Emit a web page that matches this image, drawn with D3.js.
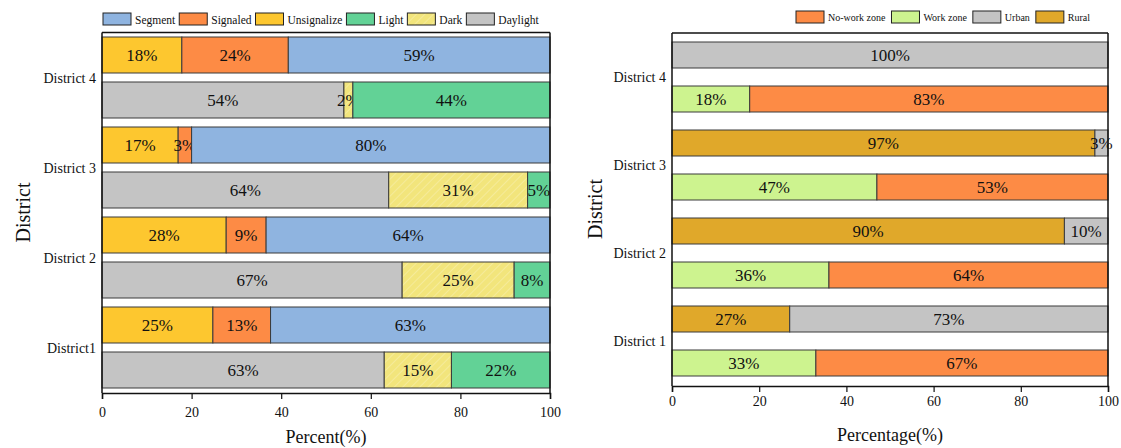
<!DOCTYPE html>
<html>
<head>
<meta charset="utf-8">
<script src="https://cdn.jsdelivr.net/npm/d3@7"></script>
<style>
  body { margin: 0; background: #fff; }
  svg { display: block; }
</style>
</head>
<body>
<script>
// district order bottom -> top
const leftDistricts = ['District1', 'District 2', 'District 3', 'District 4'];
const rightDistricts = ['District 1', 'District 2', 'District 3', 'District 4'];

// left panel, intersection type row
const unsignalize = [25, 28, 17, 18];
const signaled = [13, 9, 3, 24];
const segment = [63, 64, 80, 59];
// left panel, lighting row
const daylight = [63, 67, 64, 54];
const dark = [15, 25, 31, 2];
const light = [22, 8, 5, 44];

// right panel, area row
const rural = [27, 90, 97, 0];
const urban = [73, 10, 3, 100];
// right panel, work zone row
const workZone = [33, 36, 47, 18];
const noWorkZone = [67, 64, 53, 83];

const xTicks = [0, 20, 40, 60, 80, 100];

const colors = {
    Segment: '#8fb4e0',
    Signaled: '#fd8b45',
    Unsignalize: '#fdc72f',
    Light: '#62d296',
    Dark: 'url(#darkPat)',
    Daylight: '#c4c4c4',
    'No-work zone': '#fd8b45',
    'Work zone': '#cdf38f',
    Urban: '#c4c4c4',
    Rural: '#e0a82a'
};

const width = 1121;
const height = 448;
const font = '"Liberation Serif", "Times New Roman", serif';

const svg = d3.select('body').append('svg')
    .attr('width', width)
    .attr('height', height)
    .attr('font-family', font);

const defs = svg.append('defs');
const pat = defs.append('pattern')
    .attr('id', 'darkPat')
    .attr('patternUnits', 'userSpaceOnUse')
    .attr('width', 6)
    .attr('height', 6)
    .attr('patternTransform', 'rotate(45)');
pat.append('rect').attr('width', 6).attr('height', 6).attr('fill', '#f2e57c');
pat.append('line')
    .attr('x1', 0).attr('y1', 0).attr('x2', 0).attr('y2', 6)
    .attr('stroke', '#f6eea4').attr('stroke-width', 1.5);

function drawPanel(cfg) {
    const g = svg.append('g');

    const x = d3.scaleLinear()
        .domain([0, 100])
        .range([cfg.left, cfg.right]);

    const y = d3.scaleBand()
        .domain(cfg.districts.slice().reverse())
        .range([cfg.top, cfg.bottom]);

    const sub = d3.scaleBand()
        .domain(['top', 'bottom'])
        .range([0, y.bandwidth()])
        .paddingInner(cfg.padInner)
        .paddingOuter(cfg.padOuter);

    // build segments for each row
    const segs = [];
    cfg.districts.forEach((name, i) => {
        cfg.rows.forEach(row => {
            const vals = row.series.map(s => s.values[i]);
            const total = d3.sum(vals);
            let acc = 0;
            row.series.forEach((s, j) => {
                const v = vals[j];
                segs.push({
                    district: name,
                    row: row.key,
                    name: s.name,
                    value: v,
                    x0: acc / total * 100,
                    x1: (acc + v) / total * 100
                });
                acc += v;
            });
        });
    });

    const bars = g.selectAll('.seg')
        .data(segs.filter(d => d.value > 0))
        .join('g')
        .attr('class', 'seg');

    bars.append('rect')
        .attr('x', d => x(d.x0))
        .attr('y', d => y(d.district) + sub(d.row))
        .attr('width', d => x(d.x1) - x(d.x0))
        .attr('height', sub.bandwidth())
        .attr('fill', d => colors[d.name])
        .attr('stroke', '#3a3a3a')
        .attr('stroke-width', 1);

    bars.append('text')
        .attr('x', d => (x(d.x0) + x(d.x1)) / 2)
        .attr('y', d => y(d.district) + sub(d.row) + sub.bandwidth() / 2)
        .attr('dy', '0.36em')
        .attr('text-anchor', 'middle')
        .attr('font-size', cfg.labelSize)
        .attr('fill', '#111')
        .text(d => d.value + '%');

    // frame: top, right, left
    g.append('line')
        .attr('x1', cfg.left).attr('x2', cfg.right)
        .attr('y1', cfg.top).attr('y2', cfg.top)
        .attr('stroke', '#111').attr('stroke-width', 1.5);
    g.append('line')
        .attr('x1', cfg.right).attr('x2', cfg.right)
        .attr('y1', cfg.top).attr('y2', cfg.axisY)
        .attr('stroke', '#111').attr('stroke-width', 1.5);
    g.append('line')
        .attr('x1', cfg.left).attr('x2', cfg.left)
        .attr('y1', cfg.top).attr('y2', cfg.axisY)
        .attr('stroke', '#111').attr('stroke-width', 1.5);

    // x axis with minor ticks
    const minor = d3.range(0, 101, 4).filter(v => v % 20 !== 0);
    const axisG = g.append('g')
        .attr('transform', `translate(0,${cfg.axisY})`);
    axisG.call(d3.axisBottom(x).tickValues(minor).tickSize(3).tickFormat(''));
    axisG.call(d3.axisBottom(x).tickValues(xTicks).tickSize(6).tickFormat(d3.format('d')));
    axisG.selectAll('path').attr('stroke', '#111').attr('stroke-width', 1.5);
    axisG.selectAll('line').attr('stroke', '#111').attr('stroke-width', 1.2);
    axisG.selectAll('text')
        .attr('font-family', font)
        .attr('font-size', 14)
        .attr('fill', '#111')
        .attr('dy', cfg.tickDy);

    // district labels
    g.selectAll('.dlab')
        .data(cfg.districts)
        .join('text')
        .attr('class', 'dlab')
        .attr('x', cfg.left - 6)
        .attr('y', d => y(d) + y.bandwidth() / 2)
        .attr('dy', '0.36em')
        .attr('text-anchor', 'end')
        .attr('font-size', 14)
        .attr('fill', '#111')
        .text(d => d);

    // axis titles
    g.append('text')
        .attr('x', (cfg.left + cfg.right) / 2)
        .attr('y', cfg.xTitleY)
        .attr('text-anchor', 'middle')
        .attr('font-size', 18)
        .attr('fill', '#111')
        .text(cfg.xTitle);

    g.append('text')
        .attr('transform', `translate(${cfg.yTitleX},${(cfg.top + cfg.bottom) / 2}) rotate(-90)`)
        .attr('text-anchor', 'middle')
        .attr('font-size', 20)
        .attr('fill', '#111')
        .text('District');

    // legend
    const leg = g.append('g').attr('transform', `translate(${cfg.legendX},${cfg.legendY})`);
    let lx = 0;
    cfg.legend.forEach(name => {
        leg.append('rect')
            .attr('x', lx).attr('y', 0)
            .attr('width', cfg.swatchW).attr('height', 12)
            .attr('fill', colors[name])
            .attr('stroke', '#222').attr('stroke-width', 1);
        const t = leg.append('text')
            .attr('x', lx + cfg.swatchW + 4).attr('y', 6.5)
            .attr('dy', '0.36em')
            .attr('font-size', cfg.legendSize)
            .attr('fill', '#111')
            .text(name);
        lx += cfg.swatchW + 4 + t.node().getComputedTextLength() + cfg.legendGap;
    });
}

drawPanel({
    districts: leftDistricts,
    left: 102, right: 550, top: 32.5, bottom: 392.5, axisY: 393,
    padInner: 0.2, padOuter: 0.1,
    labelSize: 17,
    tickDy: '1.1em',
    rows: [
        { key: 'top', series: [
            { name: 'Unsignalize', values: unsignalize },
            { name: 'Signaled', values: signaled },
            { name: 'Segment', values: segment }
        ] },
        { key: 'bottom', series: [
            { name: 'Daylight', values: daylight },
            { name: 'Dark', values: dark },
            { name: 'Light', values: light }
        ] }
    ],
    xTitle: 'Percent(%)', xTitleY: 443,
    yTitleX: 30,
    legend: ['Segment', 'Signaled', 'Unsignalize', 'Light', 'Dark', 'Daylight'],
    legendX: 103, legendY: 13, legendGap: 4, legendSize: 11.5, swatchW: 28
});

drawPanel({
    districts: rightDistricts,
    left: 672, right: 1108, top: 33, bottom: 385, axisY: 386,
    padInner: 18 / 44, padOuter: 9 / 44,
    labelSize: 17,
    tickDy: '0.75em',
    rows: [
        { key: 'top', series: [
            { name: 'Rural', values: rural },
            { name: 'Urban', values: urban }
        ] },
        { key: 'bottom', series: [
            { name: 'Work zone', values: workZone },
            { name: 'No-work zone', values: noWorkZone }
        ] }
    ],
    xTitle: 'Percentage(%)', xTitleY: 441,
    yTitleX: 602,
    legend: ['No-work zone', 'Work zone', 'Urban', 'Rural'],
    legendX: 796, legendY: 11, legendGap: 6, legendSize: 10, swatchW: 28
});
</script>
</body>
</html>
